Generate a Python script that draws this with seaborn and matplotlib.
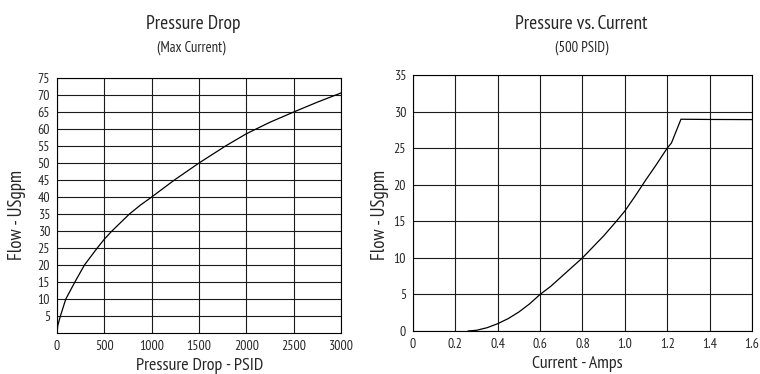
import matplotlib
matplotlib.use("Agg")
import matplotlib.pyplot as plt
import seaborn as sns
import pandas as pd

# Left chart: Pressure Drop (Max Current)
pd_psid = [0, 8, 36, 93, 189, 290, 425, 500, 580, 765, 880, 1000,
           1240, 1500, 1780, 2000, 2250, 2500, 2750, 3000]
pd_flow = [0, 2.2, 5, 10, 15, 20, 25, 27.6, 30, 35, 37.6, 40,
           45, 50, 55, 58.6, 62.0, 65, 67.9, 70.6]
left_xticks = [0, 500, 1000, 1500, 2000, 2500, 3000]
left_yticks = [5, 10, 15, 20, 25, 30, 35, 40, 45, 50, 55, 60, 65, 70, 75]

# Right chart: Pressure vs. Current (500 PSID)
cur_amps = [0.26, 0.3, 0.35, 0.4, 0.45, 0.5, 0.55, 0.6, 0.65, 0.7, 0.75, 0.8, 0.85, 0.9,
            0.96, 1.0, 1.05, 1.1, 1.15, 1.2, 1.22, 1.265, 1.4, 1.6]
cur_flow = [0, 0.1, 0.45, 1.0, 1.7, 2.6, 3.7, 5.0, 6.1, 7.4, 8.7, 10.0, 11.5, 13.0,
            15.0, 16.4, 18.5, 20.7, 22.8, 25.0, 25.7, 28.95, 28.92, 28.9]
right_xticks = [0, 0.2, 0.4, 0.6, 0.8, 1.0, 1.2, 1.4, 1.6]
right_xlabels = ["0", "0.2", "0.4", "0.6", "0.8", "1.0", "1.2", "1.4", "1.6"]
right_yticks = [0, 5, 10, 15, 20, 25, 30, 35]

sns.set_style("white")
plt.rcParams['font.family'] = ['PT Sans Narrow', 'Roboto Condensed', 'Fira Sans Condensed',
                               'IBM Plex Sans Condensed', 'DejaVu Sans']

fig = plt.figure(figsize=(7.6, 3.74), dpi=100)
axL = fig.add_axes([0.075, 0.1096, 0.3737, 0.6818])
axR = fig.add_axes([0.5434, 0.115, 0.446, 0.6845])

dfL = pd.DataFrame({"x": pd_psid, "y": pd_flow})
dfR = pd.DataFrame({"x": cur_amps, "y": cur_flow})

sns.lineplot(data=dfL, x="x", y="y", ax=axL, color="black", linewidth=0.9)
sns.lineplot(data=dfR, x="x", y="y", ax=axR, color="black", linewidth=0.9)

def style(ax, xt, xl, yt, xlim, ylim):
    ax.set_xlim(*xlim)
    ax.set_ylim(*ylim)
    ax.set_xticks(xt)
    if xl is not None:
        ax.set_xticklabels(xl)
    ax.set_yticks(yt)
    ax.grid(True, color="#1a1a1a", linewidth=0.8)
    ax.set_axisbelow(True)
    for s in ax.spines.values():
        s.set_color("black")
        s.set_linewidth(0.8)
    ax.tick_params(axis="both", labelsize=10, length=3, width=0.8, color="black", pad=2)

style(axL, left_xticks, None, left_yticks, (0, 3000), (0, 75))
style(axR, right_xticks, right_xlabels, right_yticks, (0, 1.6), (0, 35))

axL.set_xlabel("Pressure Drop - PSID", fontsize=13, va="center")
axL.xaxis.set_label_coords(0.502, -0.129)
axL.set_ylabel("Flow - USgpm", fontsize=13.5, va="center")
axL.yaxis.set_label_coords(-0.141, 0.463)

axR.set_xlabel("Current - Amps", fontsize=13, va="center")
axR.xaxis.set_label_coords(0.484, -0.129)
axR.set_ylabel("Flow - USgpm", fontsize=13.5, va="center")
axR.yaxis.set_label_coords(-0.097, 0.453)

fig.text(193.7/760, 1 - 24/374, "Pressure Drop", ha="center", va="center", fontsize=14)
fig.text(191.7/760, 1 - 47.5/374, "(Max Current)", ha="center", va="center", fontsize=10.5)
fig.text(581.7/760, 1 - 24/374, "Pressure vs. Current", ha="center", va="center", fontsize=14)
fig.text(581.7/760, 1 - 47.5/374, "(500 PSID)", ha="center", va="center", fontsize=10.5)

fig.savefig("out.png", dpi=100)
